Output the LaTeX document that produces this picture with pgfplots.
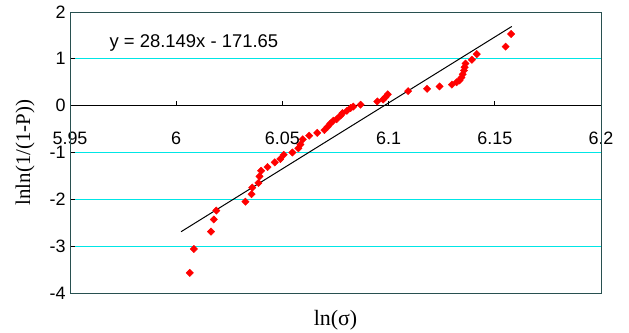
\documentclass[border=0pt]{standalone}
\usepackage{fontspec}
\setmainfont{Liberation Serif}
\setsansfont{Liberation Sans}
\usepackage{pgfplots}
\pgfplotsset{compat=1.18}
\definecolor{gridcyan}{RGB}{0,230,230}
\definecolor{frame}{RGB}{40,80,80}
\begin{document}
\begin{tikzpicture}
\begin{axis}[
  scale only axis,
  width=531bp, height=281bp,
  xmin=5.95, xmax=6.2, ymin=-4, ymax=2,
  axis x line=middle, axis y line=left,
  axis line style={-, black, line width=0.8bp},
  hide obscured x ticks=false, hide obscured y ticks=false,
  xtick={5.95,6,6.05,6.1,6.15,6.2},
  xticklabels={5.95,6,6.05,6.1,6.15,6.2},
  ytick={-4,-3,-2,-1,0,1,2},
  /pgf/number format/assume math mode=true,
  tick label style={font=\fontsize{18}{18}\selectfont\sffamily, text=black},
  xticklabel style={yshift=-23bp},
  yticklabel style={xshift=-1bp},
  xtick align=inside, ytick align=inside,
  major tick length=5bp,
  tick style={black, line width=0.8bp},
  ymajorgrids, grid style={gridcyan, line width=0.9bp},
  clip=false,
]
\draw[frame, line width=0.8bp] (rel axis cs:0,0) rectangle (rel axis cs:1,1);
\addplot[black, line width=1bp] coordinates {(6.0023,-2.6913) (6.158,1.6915)};
\addplot[only marks, mark=square*, mark size=2.6bp, mark options={rotate=45, fill=red, draw=red}] coordinates {
(6.0064,-3.57) (6.0083,-3.06) (6.0164,-2.69) (6.0177,-2.43) (6.0189,-2.24)
(6.0326,-2.05) (6.0355,-1.89) (6.0358,-1.75) (6.0387,-1.65) (6.0392,-1.51)
(6.0400,-1.39) (6.0430,-1.31) (6.0464,-1.21) (6.0490,-1.14) (6.0506,-1.05)
(6.0547,-1.00) (6.0575,-0.91) (6.0585,-0.83) (6.0596,-0.72) (6.0626,-0.64)
(6.0664,-0.58) (6.0698,-0.52) (6.0713,-0.45) (6.0726,-0.38) (6.0740,-0.32)
(6.0755,-0.29) (6.0774,-0.21) (6.0783,-0.16) (6.0804,-0.11) (6.0821,-0.05)
(6.0834,-0.02) (6.0868,0.02) (6.0947,0.09) (6.0974,0.13) (6.0985,0.18)
(6.0996,0.24) (6.1092,0.31) (6.1181,0.36) (6.1240,0.41) (6.1298,0.45)
(6.1320,0.50) (6.1334,0.54) (6.1343,0.60) (6.1349,0.67) (6.1355,0.75)
(6.1358,0.82) (6.1362,0.90) (6.1392,0.98) (6.1415,1.10) (6.1551,1.26)
(6.1577,1.53)
};
\node[anchor=west, font=\fontsize{18.5}{18.5}\selectfont\sffamily] at (axis cs:5.967,1.34) {y = 28.149x - 171.65};
\node[font=\fontsize{21}{21}\selectfont, rotate=90] at ([xshift=-45bp]rel axis cs:0,0.5) {lnln(1/(1-P))};
\node[font=\fontsize{22}{22}\selectfont] at ([yshift=-27bp]rel axis cs:0.5,0) {ln(σ)};
\coordinate (sw) at (rel axis cs:0,0);
\coordinate (ne) at (rel axis cs:1,1);
\end{axis}
\pgfresetboundingbox
\path[use as bounding box] ([shift={(-70bp,-40bp)}]sw) rectangle ([shift={(28bp,12bp)}]ne);
\end{tikzpicture}
\end{document}
